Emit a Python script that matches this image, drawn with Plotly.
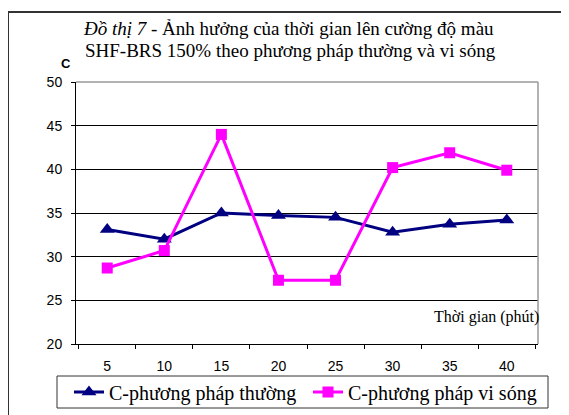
import plotly.graph_objects as go

times = ["5", "10", "15", "20", "25", "30", "35", "40"]
c_thuong = [33.1, 32.0, 35.0, 34.7, 34.5, 32.8, 33.7, 34.2]
c_visong = [28.7, 30.7, 44.0, 27.3, 27.3, 40.2, 41.9, 39.9]
series_names = ["C-phương pháp thường", "C-phương pháp vi sóng"]
title_lines = ["<i>Đồ thị 7</i> - Ảnh hưởng của thời gian lên cường độ màu",
               "SHF-BRS 150% theo phương pháp thường và vi sóng"]

OFF = 8  # page body margin
W, H = 569 - OFF, 415 - OFF
L, R, T, B = 76 - OFF, 538 - OFF, 82 - OFF, 344 - OFF

def px(x):  # x in reference pixels
    return (x - OFF - L) / (R - L)

def py(y):  # y in reference pixels
    return (B - (y - OFF)) / (B - T)

fig = go.Figure()
fig.add_trace(go.Scatter(
    x=times, y=c_thuong, name=series_names[0], mode="lines+markers",
    line=dict(color="#000080", width=3),
    marker=dict(symbol="triangle-up", size=13, color="#000080"),
))
fig.add_trace(go.Scatter(
    x=times, y=c_visong, name=series_names[1], mode="lines+markers",
    line=dict(color="#FF00FF", width=3),
    marker=dict(symbol="square", size=11, color="#FF00FF"),
))

fig.update_layout(
    width=W, height=H,
    margin=dict(l=L, r=W - R, t=T, b=H - B, pad=0, autoexpand=False),
    paper_bgcolor="white", plot_bgcolor="white",
    showlegend=True,
    legend=dict(
        orientation="h", x=px(69), y=py(392), xanchor="left", yanchor="middle",
        borderwidth=0, bgcolor="rgba(0,0,0,0)",
        font=dict(family="Liberation Serif", size=20, color="black"),
        itemwidth=30, tracegroupgap=0, entrywidth=194, entrywidthmode="pixels",
    ),
    xaxis=dict(
        type="category", tickson="boundaries", ticks="outside", ticklen=4,
        tickcolor="black", showgrid=False, showline=True, linecolor="black",
        linewidth=1, ticklabelstandoff=9,
        tickfont=dict(family="Liberation Sans", size=14, color="black"),
    ),
    yaxis=dict(
        range=[20, 50], dtick=5, ticks="outside", ticklen=4, tickcolor="black",
        showgrid=True, gridcolor="black", gridwidth=1, showline=True,
        linecolor="black", linewidth=1, zeroline=False, ticklabelstandoff=6,
        tickfont=dict(family="Liberation Sans", size=14, color="black"),
    ),
    shapes=[
        dict(type="line", xref="paper", yref="paper", x0=0, x1=1, y0=1, y1=1,
             line=dict(color="#999999", width=1.5), layer="above"),
        dict(type="line", xref="paper", yref="paper", x0=1, x1=1, y0=0, y1=1,
             line=dict(color="#999999", width=1.5), layer="above"),
        dict(type="rect", xref="paper", yref="paper",
             x0=px(8), x1=px(590), y0=py(12), y1=py(440),
             line=dict(color="#333333", width=2), layer="below"),
        dict(type="rect", xref="paper", yref="paper",
             x0=px(57), x1=px(548), y0=py(376), y1=py(408),
             line=dict(color="#333333", width=1), layer="below"),
    ],
    annotations=[
        dict(xref="paper", yref="paper", x=px(288), y=py(29),
             xanchor="center", yanchor="middle", showarrow=False,
             text=title_lines[0],
             font=dict(family="Liberation Serif", size=19, color="black")),
        dict(xref="paper", yref="paper", x=px(290), y=py(51),
             xanchor="center", yanchor="middle", showarrow=False,
             text=title_lines[1],
             font=dict(family="Liberation Serif", size=19, color="black")),
        dict(xref="paper", yref="paper", x=px(66), y=py(63),
             xanchor="center", yanchor="middle", showarrow=False,
             text="<b>C</b>",
             font=dict(family="Liberation Sans", size=13, color="black")),
        dict(xref="paper", yref="paper", x=1, y=py(317), xshift=3,
             xanchor="right", yanchor="middle", showarrow=False,
             text="Thời gian (phút)",
             font=dict(family="Liberation Serif", size=16, color="black")),
    ],
)

fig.write_html("out.html")
